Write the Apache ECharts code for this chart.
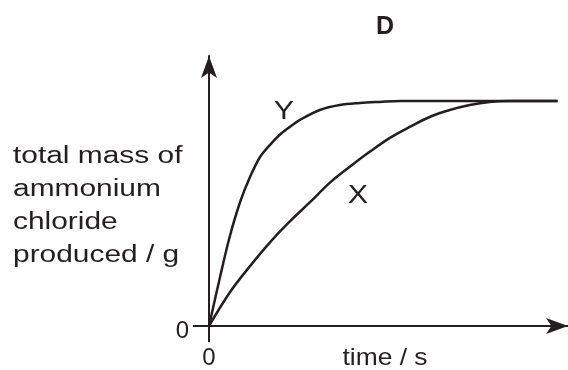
<!DOCTYPE html>
<html>
<head>
<meta charset="utf-8">
<script src="https://cdn.jsdelivr.net/npm/echarts@6/dist/echarts.min.js"></script>
<style>
  html, body { margin: 0; padding: 0; background: #fff; }
  #chart { width: 568px; height: 370px; }
</style>
</head>
<body>
<div id="chart"></div>
<script>
  // curve Y (faster reaction)
  const yTime = [0, 3.2, 6.0, 8.9, 11.7, 14.6, 17.5, 20.3, 23.2, 26.1, 31.8, 37.5, 43.3, 49, 55, 70, 85, 100];
  const yMass = [0, 22, 40, 55, 66, 75, 80.5, 85, 88.5, 91.6, 96, 98.2, 99.1, 99.6, 100, 100, 100, 100];
  // curve X (slower reaction)
  const xTime = [0, 6, 11.7, 17.5, 23.2, 28.9, 34.7, 40.4, 46.1, 51.9, 57.6, 63.3, 69.1, 74.8, 80.5, 86, 93, 100];
  const xMass = [0, 15, 26.5, 37.2, 46.5, 54.9, 63.7, 70.8, 77.4, 83.6, 88.5, 92.9, 96, 98.2, 99.6, 100, 100, 100];
  const tickValues = [0];

  const ink = '#231f20';
  const font = '"Liberation Sans", Arial, sans-serif';

  let chart = echarts.init(document.getElementById('chart'));

  var option = {
    animation: false,
    title: {
      text: 'D',
      left: 380,
      top: 10,
      textAlign: 'center',
      textStyle: { fontSize: 25, fontWeight: 'bold', color: ink, fontFamily: font }
    },
    grid: { left: 209, right: 0, top: 56, bottom: 43 },
    xAxis: {
      type: 'value',
      min: 0,
      max: 103,
      splitLine: { show: false },
      axisLine: { lineStyle: { color: ink, width: 2 }, symbol: ['none', 'arrow'], symbolSize: [12, 22] },
      axisTick: { customValues: tickValues, length: 16, lineStyle: { color: ink, width: 2 } },
      axisLabel: { customValues: tickValues, margin: 20, fontSize: 24, color: ink, fontFamily: font }
    },
    yAxis: {
      type: 'value',
      min: 0,
      max: 120,
      splitLine: { show: false },
      axisLine: { show: true, lineStyle: { color: ink, width: 2 }, symbol: ['none', 'arrow'], symbolSize: [12, 22] },
      axisTick: { show: true, customValues: tickValues, length: 16, lineStyle: { color: ink, width: 2 } },
      axisLabel: { customValues: tickValues, margin: 20, fontSize: 24, color: ink, fontFamily: font, verticalAlign: 'top', lineHeight: 10 }
    },
    graphic: [
      {
        type: 'text', x: 13, y: 140, scaleX: 1.3,
        style: {
          text: 'total mass of\nammonium\nchloride\nproduced / g',
          fill: ink, font: '23px ' + font, lineHeight: 33,
          textAlign: 'left', textVerticalAlign: 'top'
        }
      },
      {
        type: 'text', x: 385, y: 358, scaleX: 1.1,
        style: { text: 'time / s', fill: ink, font: '24px ' + font, textAlign: 'center', textVerticalAlign: 'middle' }
      },
      {
        type: 'text', x: 284, y: 112, scaleX: 1.17,
        style: { text: 'Y', fill: ink, font: '26px ' + font, textAlign: 'center', textVerticalAlign: 'middle' }
      },
      {
        type: 'text', x: 358, y: 196, scaleX: 1.17,
        style: { text: 'X', fill: ink, font: '26px ' + font, textAlign: 'center', textVerticalAlign: 'middle' }
      }
    ],
    series: [
      {
        name: 'Y',
        type: 'line',
        data: yTime.map((t, i) => [t, yMass[i]]),
        smooth: 0.35,
        showSymbol: false,
        lineStyle: { color: ink, width: 2.5 }
      },
      {
        name: 'X',
        type: 'line',
        data: xTime.map((t, i) => [t, xMass[i]]),
        smooth: 0.35,
        showSymbol: false,
        lineStyle: { color: ink, width: 2.5 }
      }
    ]
  };
  chart.setOption(option);
</script>
</body>
</html>
